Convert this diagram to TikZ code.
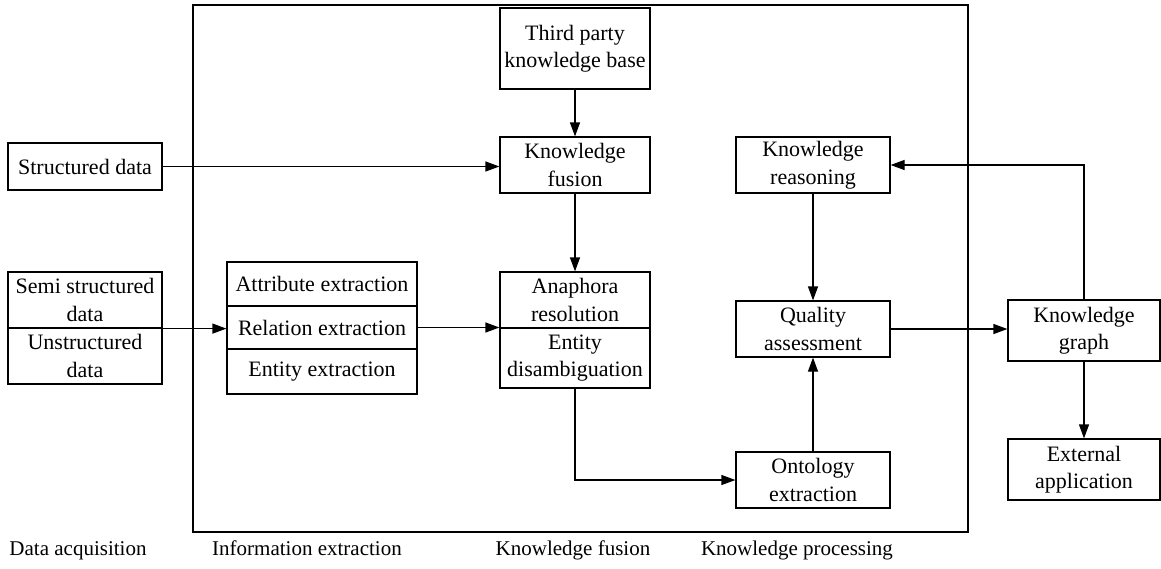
\documentclass[tikz,border=0pt]{standalone}
\usepackage{fontspec}
\setmainfont{Liberation Serif}
\usetikzlibrary{arrows.meta}
\begin{document}
\begin{tikzpicture}[x=1pt,y=-1pt,
  every node/.style={font=\fontsize{22}{27.5}\selectfont},
  blk/.style={draw, line width=1.2pt, inner sep=0pt, align=center},
  conn/.style={line width=1.2pt, -{Triangle[length=14pt,width=10pt]}},
  lbl/.style={inner sep=0pt, anchor=base, font=\fontsize{21}{25}\selectfont}]
\useasboundingbox (0,0) rectangle (1161,568);
\draw[line width=1.2pt] (193,5) rectangle (968,532);
% column 1
\node[blk, minimum width=154pt, minimum height=47pt] (sd) at (85,166.5) {Structured data};
\node[blk, minimum width=154pt, minimum height=56pt] (semi) at (85,300) {Semi structured\\data};
\node[blk, minimum width=154pt, minimum height=56pt] (uns) at (85,356) {Unstructured\\data};
% column 2
\node[blk, minimum width=190pt, minimum height=44pt] (attr) at (322,284) {Attribute extraction};
\node[blk, minimum width=190pt, minimum height=43pt] (rel) at (322,327.5) {Relation extraction};
\node[blk, minimum width=190pt, minimum height=45pt] (ent) at (322,371.5) {Entity extraction};
% column 3
\node[blk, minimum width=150pt, minimum height=81pt] (third) at (575,48.5) {Third party\\knowledge base};
\node[blk, minimum width=150pt, minimum height=56pt] (kf) at (575,165) {Knowledge\\fusion};
\node[blk, minimum width=150pt, minimum height=56pt] (ana) at (575,300) {Anaphora\\resolution};
\node[blk, minimum width=150pt, minimum height=60pt] (dis) at (575,358) {Entity\\disambiguation};
% column 4
\node[blk, minimum width=154pt, minimum height=56pt] (kr) at (813,165) {Knowledge\\reasoning};
\node[blk, minimum width=154pt, minimum height=56pt] (qa) at (813,329) {Quality\\assessment};
\node[blk, minimum width=154pt, minimum height=56pt] (oe) at (813,480) {Ontology\\extraction};
% column 5
\node[blk, minimum width=152pt, minimum height=61pt] (kg) at (1084,330.5) {Knowledge\\graph};
\node[blk, minimum width=152pt, minimum height=61pt] (ea) at (1084,469.5) {External\\application};
% connectors
\draw[conn] (third.south) -- (kf.north);
\draw[conn] (sd.east) -- (sd.east -| kf.west);
\draw[conn] (semi.south east) -- (semi.south east -| rel.west);
\draw[conn] (rel.east) -- (rel.east -| ana.west);
\draw[conn] (kf.south) -- (ana.north);
\draw[conn] (dis.south) |- (oe.west);
\draw[conn] (kr.south) -- (qa.north);
\draw[conn] (oe.north) -- (qa.south);
\draw[conn] (qa.east) -- (qa.east -| kg.west);
\draw[conn] (kg.north) |- (kr.east);
\draw[conn] (kg.south) -- (ea.north);
% stage labels
\node[lbl] (l1) at (78,555) {Data acquisition};
\node[lbl] (l2) at (307,555) {Information extraction};
\node[lbl] (l3) at (573,555) {Knowledge fusion};
\node[lbl] (l4) at (797,555) {Knowledge processing};
\end{tikzpicture}
\end{document}
